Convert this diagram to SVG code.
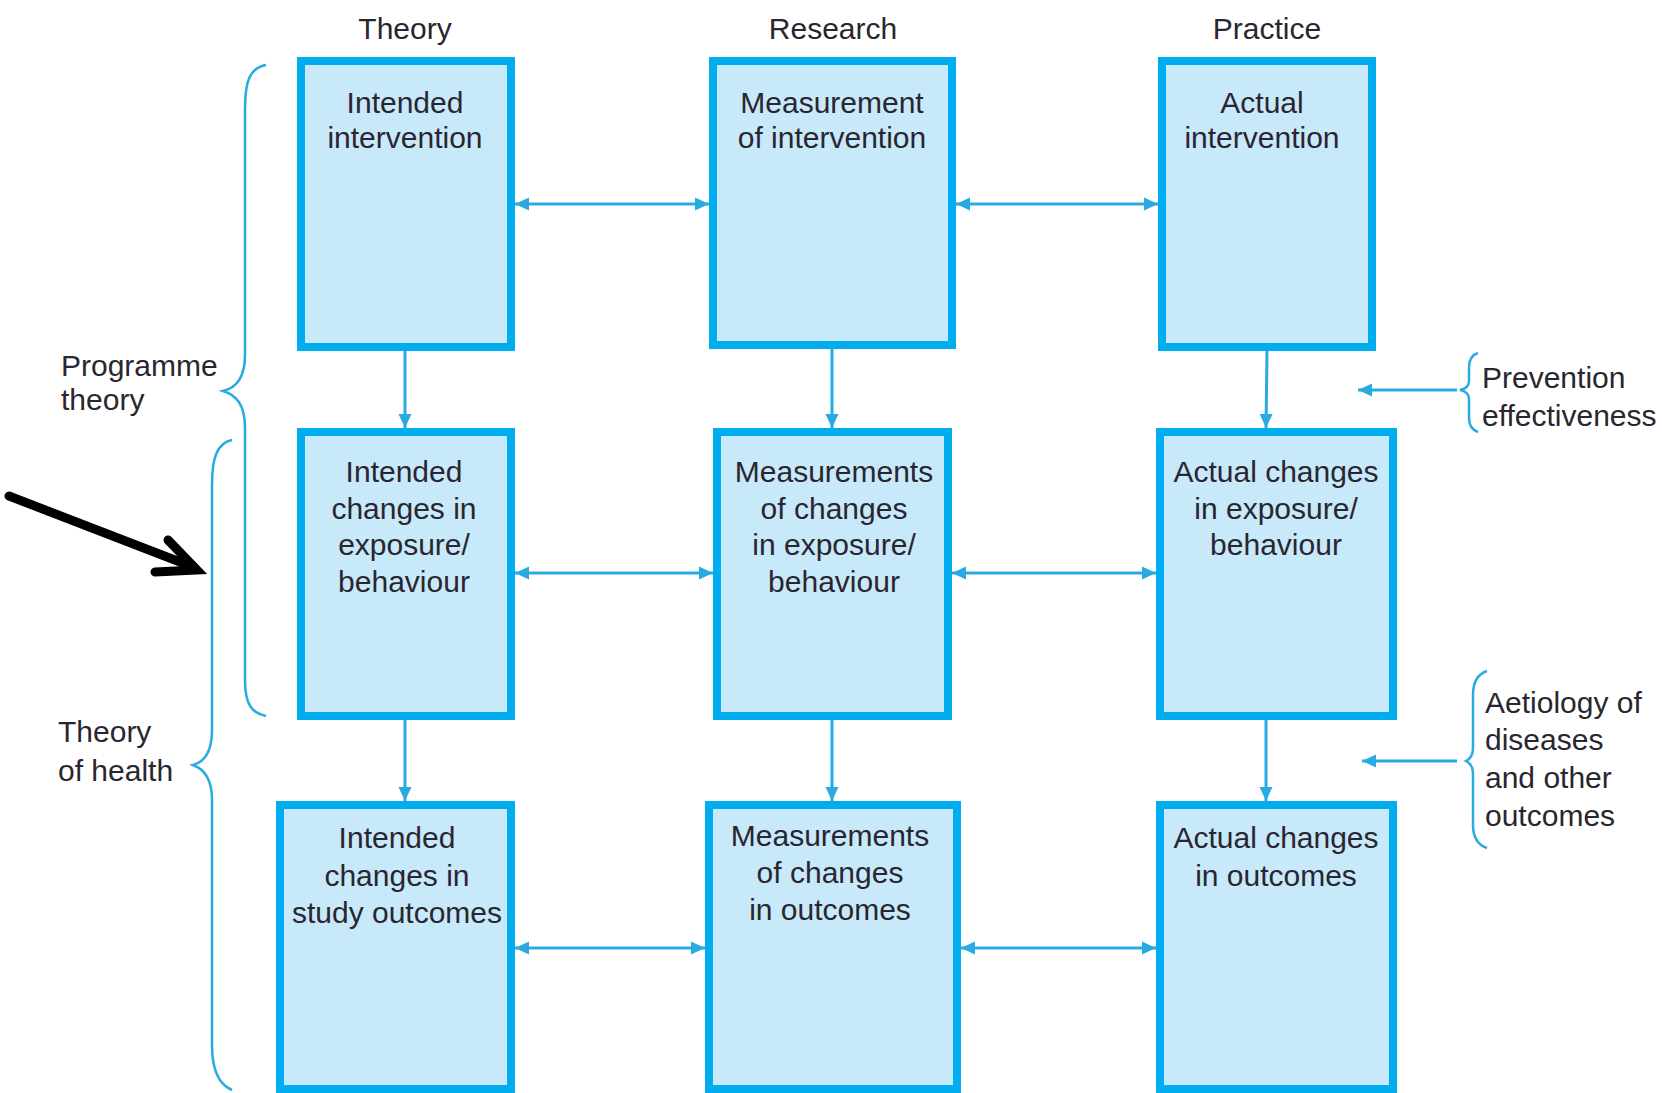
<svg xmlns="http://www.w3.org/2000/svg" width="1662" height="1093" viewBox="0 0 1662 1093">
  <defs>
    <marker id="tri" viewBox="0 0 14 14" refX="14" refY="7" markerWidth="14" markerHeight="14" markerUnits="userSpaceOnUse" orient="auto-start-reverse">
      <path d="M0,0.5 L14,7 L0,13.5 Z" fill="#29abe2"/>
    </marker>
  </defs>
  <style>
    .box { fill: #c7e9fa; stroke: #00aeef; stroke-width: 8; }
    .lbl { font-family: "Liberation Sans", Arial, sans-serif; font-size: 30px; fill: #2a2630; text-anchor: middle; }
    .side { font-family: "Liberation Sans", Arial, sans-serif; font-size: 30px; fill: #2a2630; }
    .link { stroke: #29abe2; stroke-width: 3; fill: none; }
    .brace { stroke: #29abe2; stroke-width: 2.5; fill: none; }
  </style>
  <rect width="1662" height="1093" fill="#ffffff"/>

  <!-- column headings -->
  <g id="headings">
    <text class="lbl" x="405" y="39">Theory</text>
    <text class="lbl" x="833" y="39">Research</text>
    <text class="lbl" x="1267" y="39">Practice</text>
  </g>

  <!-- row 1 -->
  <g id="intended-intervention">
    <rect class="box" x="301" y="61" width="210" height="286"/>
    <text class="lbl" x="405" y="113">Intended</text>
    <text class="lbl" x="405" y="148">intervention</text>
  </g>
  <g id="measurement-of-intervention">
    <rect class="box" x="713" y="61" width="239" height="284"/>
    <text class="lbl" x="832" y="113">Measurement</text>
    <text class="lbl" x="832" y="148">of intervention</text>
  </g>
  <g id="actual-intervention">
    <rect class="box" x="1162" y="61" width="210" height="286"/>
    <text class="lbl" x="1262" y="113">Actual</text>
    <text class="lbl" x="1262" y="148">intervention</text>
  </g>

  <!-- row 2 -->
  <g id="intended-changes-exposure">
    <rect class="box" x="301" y="432" width="210" height="284"/>
    <text class="lbl" x="404" y="482">Intended</text>
    <text class="lbl" x="404" y="519">changes in</text>
    <text class="lbl" x="404" y="555">exposure/</text>
    <text class="lbl" x="404" y="592">behaviour</text>
  </g>
  <g id="measurements-changes-exposure">
    <rect class="box" x="717" y="432" width="231" height="284"/>
    <text class="lbl" x="834" y="482">Measurements</text>
    <text class="lbl" x="834" y="519">of changes</text>
    <text class="lbl" x="834" y="555">in exposure/</text>
    <text class="lbl" x="834" y="592">behaviour</text>
  </g>
  <g id="actual-changes-exposure">
    <rect class="box" x="1160" y="432" width="233" height="284"/>
    <text class="lbl" x="1276" y="482">Actual changes</text>
    <text class="lbl" x="1276" y="519">in exposure/</text>
    <text class="lbl" x="1276" y="555">behaviour</text>
  </g>

  <!-- row 3 -->
  <g id="intended-changes-outcomes">
    <rect class="box" x="280" y="805" width="231" height="284"/>
    <text class="lbl" x="397" y="848">Intended</text>
    <text class="lbl" x="397" y="886">changes in</text>
    <text class="lbl" x="397" y="923">study outcomes</text>
  </g>
  <g id="measurements-changes-outcomes">
    <rect class="box" x="709" y="805" width="248" height="284"/>
    <text class="lbl" x="830" y="846">Measurements</text>
    <text class="lbl" x="830" y="883">of changes</text>
    <text class="lbl" x="830" y="920">in outcomes</text>
  </g>
  <g id="actual-changes-outcomes">
    <rect class="box" x="1160" y="805" width="233" height="284"/>
    <text class="lbl" x="1276" y="848">Actual changes</text>
    <text class="lbl" x="1276" y="886">in outcomes</text>
  </g>

  <!-- side annotations -->
  <g id="programme-theory">
    <path class="brace" d="M266,65 C250,68 245,80 245,110 L245,355 C245,378 236,388 223,391 C236,395 245,404 245,428 L245,680 C245,705 252,713 266,716"/>
    <text class="side" x="61" y="376">Programme</text>
    <text class="side" x="61" y="410">theory</text>
  </g>
  <g id="theory-of-health">
    <path class="brace" d="M232,440 C217,443 212,458 212,485 L212,730 C212,752 204,762 193,765 C204,769 212,779 212,800 L212,1045 C212,1072 220,1085 232,1090"/>
    <text class="side" x="58" y="742">Theory</text>
    <text class="side" x="58" y="781">of health</text>
  </g>
  <g id="prevention-effectiveness">
    <path class="brace" d="M1478,353 C1471,355 1469,360 1469,368 L1469,381 C1469,386 1465,389 1460,390 C1465,391 1469,394 1469,399 L1469,418 C1469,426 1472,430 1478,432"/>
    <text class="side" x="1482" y="388">Prevention</text>
    <text class="side" x="1482" y="426">effectiveness</text>
  </g>
  <g id="aetiology">
    <path class="brace" d="M1487,671 C1478,674 1473,682 1473,695 L1473,748 C1473,755 1470,759 1466,761 C1470,763 1473,767 1473,774 L1473,825 C1473,838 1478,845 1487,848"/>
    <text class="side" x="1485" y="713">Aetiology of</text>
    <text class="side" x="1485" y="750">diseases</text>
    <text class="side" x="1485" y="788">and other</text>
    <text class="side" x="1485" y="826">outcomes</text>
  </g>

  <!-- pointer arrow -->
  <g id="pointer" stroke="#000000" stroke-width="9" fill="none" stroke-linecap="round" stroke-linejoin="miter">
    <line x1="9" y1="496" x2="193" y2="567"/>
    <polyline points="168,540 197,570 155,572"/>
  </g>

  <!-- connectors -->
  <g id="connectors">
    <!-- horizontal, two-headed -->
    <line class="link" x1="515" y1="204" x2="709" y2="204" marker-start="url(#tri)" marker-end="url(#tri)"/>
    <line class="link" x1="956" y1="204" x2="1158" y2="204" marker-start="url(#tri)" marker-end="url(#tri)"/>
    <line class="link" x1="515" y1="573" x2="713" y2="573" marker-start="url(#tri)" marker-end="url(#tri)"/>
    <line class="link" x1="952" y1="573" x2="1156" y2="573" marker-start="url(#tri)" marker-end="url(#tri)"/>
    <line class="link" x1="515" y1="948" x2="705" y2="948" marker-start="url(#tri)" marker-end="url(#tri)"/>
    <line class="link" x1="961" y1="948" x2="1156" y2="948" marker-start="url(#tri)" marker-end="url(#tri)"/>
    <!-- vertical, downward -->
    <line class="link" x1="405" y1="351" x2="405" y2="428" marker-end="url(#tri)"/>
    <line class="link" x1="832" y1="349" x2="832" y2="428" marker-end="url(#tri)"/>
    <line class="link" x1="1267" y1="351" x2="1266" y2="428" marker-end="url(#tri)"/>
    <line class="link" x1="405" y1="720" x2="405" y2="801" marker-end="url(#tri)"/>
    <line class="link" x1="832" y1="720" x2="832" y2="801" marker-end="url(#tri)"/>
    <line class="link" x1="1266" y1="720" x2="1266" y2="801" marker-end="url(#tri)"/>
    <!-- annotation arrows -->
    <line class="link" x1="1457" y1="390" x2="1358" y2="390" marker-end="url(#tri)"/>
    <line class="link" x1="1457" y1="761" x2="1362" y2="761" marker-end="url(#tri)"/>
  </g>
</svg>
